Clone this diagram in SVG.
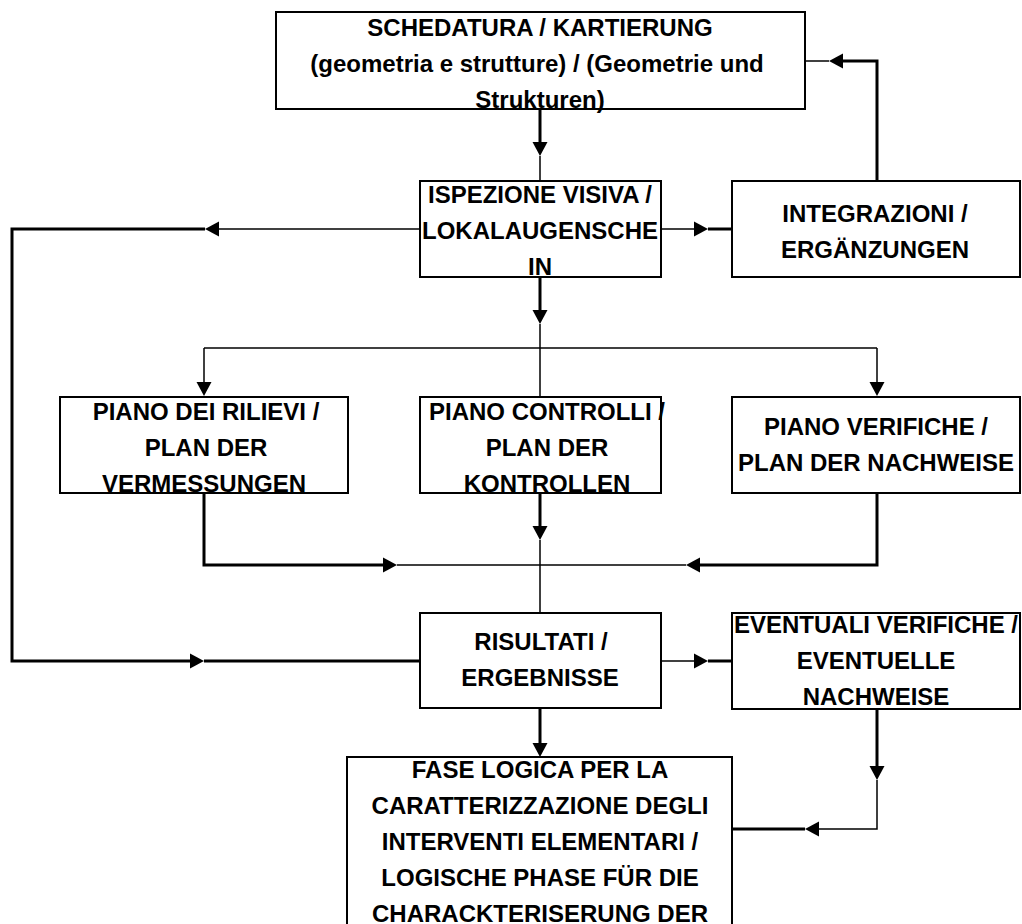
<svg xmlns="http://www.w3.org/2000/svg" width="1022" height="924" viewBox="0 0 1022 924">
<defs>
<style>
.box{fill:#fff;stroke:#000;stroke-width:2}
.t{font-family:"Liberation Sans",Arial,sans-serif;font-weight:bold;font-size:24px;fill:#000;text-anchor:middle}
.thin{fill:none;stroke:#000;stroke-width:1.5}
.thick{fill:none;stroke:#000;stroke-width:3}
</style>
<marker id="ah" markerUnits="userSpaceOnUse" markerWidth="16" markerHeight="16" refX="0" refY="7.5" orient="auto" overflow="visible">
<path d="M0,0 L14,7.5 L0,15 Z" fill="#000"/>
</marker>
</defs>
<rect width="1022" height="924" fill="#fff"/>
<g id="connectors">
<!-- top -> ispezione -->
<path class="thick" d="M540,109 V142" marker-end="url(#ah)"/>
<path class="thin" d="M540,156 V181"/>
<!-- ispezione -> branch -->
<path class="thick" d="M540,277 V310" marker-end="url(#ah)"/>
<path class="thin" d="M540,324 V397"/>
<path class="thin" d="M204,348 H877"/>
<path class="thin" d="M204,348 V382" marker-end="url(#ah)"/>
<path class="thin" d="M877,348 V382" marker-end="url(#ah)"/>
<!-- rilievi -> merge -->
<path class="thick" d="M204,493 V565 H383" marker-end="url(#ah)"/>
<path class="thin" d="M397,565 H686"/>
<!-- verifiche -> merge -->
<path class="thick" d="M877,493 V565 H700" marker-end="url(#ah)"/>
<!-- controlli -> risultati -->
<path class="thick" d="M540,493 V526" marker-end="url(#ah)"/>
<path class="thin" d="M540,540 V613"/>
<!-- ispezione left loop -> risultati -->
<path class="thin" d="M420,229 H219" marker-end="url(#ah)"/>
<path class="thick" d="M205,229 H12 V661 H190" marker-end="url(#ah)"/>
<path class="thick" d="M204,661 H420"/>
<!-- ispezione -> integrazioni -->
<path class="thin" d="M661,229 H694" marker-end="url(#ah)"/>
<path class="thick" d="M708,229 H732"/>
<!-- integrazioni -> top -->
<path class="thick" d="M877,181 V61 H843" marker-end="url(#ah)"/>
<path class="thin" d="M829,61 H805"/>
<!-- risultati -> eventuali -->
<path class="thin" d="M661,661 H694" marker-end="url(#ah)"/>
<path class="thick" d="M708,661 H732"/>
<!-- risultati -> fase -->
<path class="thick" d="M540,708 V743" marker-end="url(#ah)"/>
<!-- eventuali -> fase -->
<path class="thick" d="M877,709 V766" marker-end="url(#ah)"/>
<path class="thin" d="M877,780 V829 H819" marker-end="url(#ah)"/>
<path class="thick" d="M805,829 H732"/>
</g>
<g id="schedatura">
<rect class="box" x="276" y="12" width="529" height="97"/>
<text class="t" x="540" y="36">SCHEDATURA / KARTIERUNG</text>
<text class="t" x="537" y="72">(geometria e strutture) / (Geometrie und</text>
<text class="t" x="540" y="108">Strukturen)</text>
</g>
<g id="ispezione">
<rect class="box" x="420" y="181" width="241" height="96"/>
<text class="t" x="540" y="203">ISPEZIONE VISIVA /</text>
<text class="t" x="540" y="239">LOKALAUGENSCHE</text>
<text class="t" x="540" y="275">IN</text>
</g>
<g id="integrazioni">
<rect class="box" x="732" y="181" width="288" height="96"/>
<text class="t" x="875" y="222">INTEGRAZIONI /</text>
<text class="t" x="875" y="258">ERGÄNZUNGEN</text>
</g>
<g id="rilievi">
<rect class="box" x="60" y="397" width="288" height="96"/>
<text class="t" x="206" y="420">PIANO DEI RILIEVI /</text>
<text class="t" x="206" y="456">PLAN DER</text>
<text class="t" x="204" y="492">VERMESSUNGEN</text>
</g>
<g id="controlli">
<rect class="box" x="420" y="397" width="241" height="96"/>
<text class="t" x="547" y="420">PIANO CONTROLLI /</text>
<text class="t" x="547" y="456">PLAN DER</text>
<text class="t" x="547" y="492">KONTROLLEN</text>
</g>
<g id="verifiche">
<rect class="box" x="732" y="397" width="288" height="96"/>
<text class="t" x="876" y="435">PIANO VERIFICHE /</text>
<text class="t" x="876" y="471">PLAN DER NACHWEISE</text>
</g>
<g id="risultati">
<rect class="box" x="420" y="613" width="241" height="95"/>
<text class="t" x="541" y="650">RISULTATI /</text>
<text class="t" x="540" y="686">ERGEBNISSE</text>
</g>
<g id="eventuali">
<rect class="box" x="732" y="613" width="288" height="96"/>
<text class="t" x="876" y="633">EVENTUALI VERIFICHE /</text>
<text class="t" x="876" y="669">EVENTUELLE</text>
<text class="t" x="876" y="705">NACHWEISE</text>
</g>
<g id="fase">
<rect class="box" x="347" y="757" width="385" height="190"/>
<text class="t" x="540" y="778">FASE LOGICA PER LA</text>
<text class="t" x="540" y="814">CARATTERIZZAZIONE DEGLI</text>
<text class="t" x="540" y="850">INTERVENTI ELEMENTARI /</text>
<text class="t" x="540" y="886">LOGISCHE PHASE FÜR DIE</text>
<text class="t" x="540" y="922">CHARACKTERISERUNG DER</text>
</g>
</svg>
